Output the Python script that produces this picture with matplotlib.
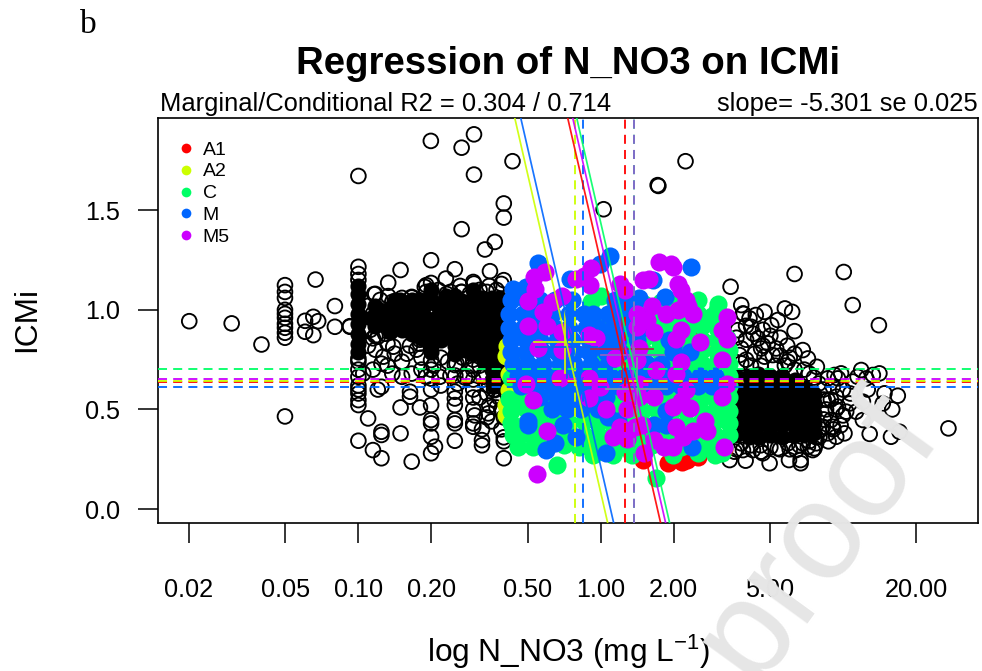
import numpy as np
import matplotlib
matplotlib.use("Agg")
import matplotlib.pyplot as plt
from matplotlib.lines import Line2D

plt.rcParams['font.family'] = ['Liberation Sans', 'DejaVu Sans']
plt.rcParams['mathtext.fontset'] = 'custom'
plt.rcParams['mathtext.rm'] = 'Liberation Sans'
plt.rcParams['mathtext.default'] = 'regular'

groups = ['A1', 'A2', 'C', 'M', 'M5']
group_colors = ['#FF0000', '#CCFF00', '#00FF66', '#0066FF', '#CC00FF']

x_tick_vals = [0.02, 0.05, 0.10, 0.20, 0.50, 1.00, 2.00, 5.00, 20.00]
x_tick_labels = ['0.02', '0.05', '0.10', '0.20', '0.50', '1.00', '2.00', '5.00', '20.00']
y_tick_vals = [0.0, 0.5, 1.0, 1.5]

# regression lines: ICMi = a + slope * log10(N_NO3)
slope = -5.301
intercepts = [1.241, 0.083, 1.438, 0.214, 1.351]
# group means (dashed lines), log10(N_NO3) and ICMi
mean_x = [0.099, -0.107, 0.136, -0.074, 0.136]
mean_y = [0.637, 0.642, 0.702, 0.612, 0.652]
# crosses: centre and half widths
cross_x = [0.087, -0.148, 0.148, -0.140, 0.133]
cross_y = [0.803, 0.838, 0.602, 0.813, 0.772]
cross_dx = [0.128, 0.126, 0.126, 0.126, 0.130]
cross_dy = [0.155, 0.155, 0.155, 0.155, 0.155]
cross_colors = ['#B02850', '#CCEE10', '#7A9AA0', '#1060F0', '#8A60C8']

# other observations, open circles, (log10 N_NO3, ICMi)
others_left = [
    (-1.698,.943),(-1.523,.932),(-1.40,.826),(-1.303,1.124),(-1.303,1.09),(-1.303,1.06),(-1.303,1.0),
    (-1.303,.98),(-1.303,.96),(-1.303,.93),(-1.303,.91),(-1.303,.885),(-1.303,.86),(-1.303,.465),
    (-1.22,.945),(-1.22,.89),(-1.186,.965),(-1.166,.943),(-1.186,.873),(-1.177,1.152),(-1.097,1.019),
    (-1.097,.915),(-1.035,.918),(-1.0,1.672),(-1.0,1.216),(-1.0,1.18),(-1.0,1.15),(-1.0,.756),(-1.0,.70),
    (-1.0,.664),(-1.0,.58),(-1.0,.547),(-1.0,.522),(-1.0,.343),(-.701,1.848),(-.574,1.814),(-.523,1.881),
    (-.364,1.746),(-.523,1.679),(-.40,1.534),(-.40,1.463),(-.574,1.405),(-.437,1.341),(-.478,1.303),
    (-.70,1.249),(-.826,1.2),(-.602,1.204),(-.639,1.157),(-.457,1.194),(-.523,1.132),(-.877,1.136),
    (-.70,1.135),(-.726,1.115),(-.40,1.149),(-.935,1.079),(-.877,1.069),(-.78,1.062),(-.574,1.09),
    (-.96,.455),(-.905,.388),(-.905,.372),(-.94,.296),(-.905,.255),(-.826,.38),(-.78,.238),(-.94,.70),
    (-.92,.60),(-.905,.614),(-.897,.765),(-.905,.73),(-.856,.815),(-.82,.74),(-.82,.664),(-.78,.68),
    (-.787,.589),(-.787,.564),(-.826,.51),(-.746,.51),(-.70,.60),(-.70,.522),(-.70,.447),(-.70,.43),
    (-.70,.363),(-.70,.28),(-.684,.313),(-.70,.748),(-.602,.589),(-.602,.555),(-.602,.522),(-.602,.447),
    (-.602,.43),(-.602,.343),(-.602,.723),(-.526,.75),(-.526,.70),(-.526,.65),(-.526,.60),(-.526,.56),
    (-.526,.50),(-.526,.43),(-.526,.413),(-.49,.346),(-.49,.32),(-.464,.48),(-.44,.55),(-.47,.46),
    (-.50,.56),(-.43,.51),(-.40,.36),(-.40,.34),(-.40,.255),(-.40,.46),(-.55,.664),(-.485,.664),
    (-.437,.597),(-.47,.58),(-.43,.70),(-.595,.73),(-.664,.664),(-.72,.664),(-.746,.85),(-.93,1.08),
    (-.78,1.065),(-.72,1.124),(-.526,1.14),(-.575,1.09),(-.636,1.08),(-.47,1.09),(-.94,.98),(-.95,.90),
    (-.94,.857),(-.92,.865),(-.89,.88),(-.787,.82),(-.746,.83),(-1.035,.915),(-.46,.62),(-.41,.40),
    (-.96,.82),(-.93,.80),(-.88,.83),(-.85,.78),(-.80,.78),(-.76,.80),(-.74,.76),(-.69,.72),(-.66,.76),
    (-.63,.74),(-.57,.76),(-.53,.72),(-.50,.72),(-.48,.76),(-.46,.74),(-.44,.60),(-.42,.56),(-.46,.52),
    (-.41,.50),(-.45,.44),(-.49,.40),(-.52,.47),(-.56,.66),(-.59,.63),(-.62,.67),(-.66,.62),(-.70,.70),
    (-.72,1.09),(-.67,1.10),(-.62,1.09),(-.58,1.12),(-.54,1.08),(-.50,1.10),(-.46,1.12),(-.43,1.10),
    (-.41,1.13),(-.82,1.06),(-.86,1.04),(-.91,1.05),(-.96,1.02),(-.97,.90),(-.93,.87),(-1.0,.62),(-1.0,.60),
    (-1.0,.74),(-.98,.68),(-.88,.72),(-.86,.68),(-.74,.70),(-.70,.655),(-.60,.67),
]
others_right = [
    (.35,1.746),(.235,1.626),(.238,1.622),(.012,1.505),(.536,1.116),(.58,1.024),(.80,1.18),(1.003,1.19),
    (1.04,1.024),(1.148,.923),(1.435,.405),(.587,.982),(.566,.898),(.614,.957),(.621,.915),(.64,.974),
    (.676,.99),(.76,1.007),(.79,.99),(.731,.949),(.704,.923),(.80,.893),(.649,.857),(.69,.832),(.724,.806),
    (.71,.773),(.635,.78),(.58,.806),(.573,.773),(.662,.806),(.834,.798),(.855,.756),(.892,.714),(.772,.74),
    (.676,.765),(.58,.731),(.965,.673),(.992,.681),(.937,.656),(1.075,.698),(1.123,.673),(1.15,.681),
    (1.06,.664),(1.096,.656),(.979,.656),(1.171,.581),(1.226,.569),(1.203,.50),(1.102,.60),(1.082,.539),
    (1.164,.53),(.958,.614),(.972,.564),(.937,.547),(.979,.514),(.93,.48),(1.013,.489),(.95,.447),(1.006,.38),
    (.972,.363),(.937,.38),(.958,.413),(1.054,.489),(1.082,.447),(1.11,.377),(1.198,.363),(1.233,.388),
    (1.027,.53),(.889,.33),(.917,.413),(.903,.363),(.882,.305),(.855,.313),(.532,.246),(.598,.243),(.662,.288),
    (.697,.23),(.777,.246),(.825,.246),(.825,.23),(.731,.305),(.628,.296),(.587,.296),(.669,.28),(.807,.296),
    (.552,.288),(.875,.296),(.772,.33),(.834,.33),
    (.62,.72),(.60,.75),(.66,.72),(.72,.72),(.76,.72),(.80,.70),(.84,.70),(.86,.68),(.88,.66),(.90,.63),
    (.92,.60),(.92,.55),(.93,.50),(.92,.45),(.91,.40),(.89,.36),(.86,.34),(.82,.32),(.78,.30),(.74,.30),
    (.70,.31),(.66,.32),(.62,.32),(.58,.33),(.56,.30),(.60,.85),(.63,.88),(.67,.90),(.70,.87),(.74,.86),
    (.77,.82),(.80,.78),(.60,.92),(.56,.86),(.59,.98),(.67,.82),(.74,.77),(.78,.76),(.95,.55),(.97,.50),
    (1.0,.47),(1.0,.60),(1.03,.58),(1.04,.64),(.99,.42),(.96,.40),(.94,.34),
]
# places where the open circles overlap so much that they print solid black
overlap_left = [
    (-1.0,1.12),(-1.0,1.08),(-1.0,1.03),(-1.0,.98),(-1.0,.93),(-1.0,.88),(-1.0,.83),(-1.0,.79),
    (-.70,1.10),(-.70,1.05),(-.70,.82),(-.70,.79),(-.602,1.07),(-.602,.82),(-.602,.78),
    (-.526,1.10),(-.526,1.06),(-.526,.82),(-.526,.78),(-.45,1.06),(-.42,1.02),(-.41,.82),(-.41,.77),
    (-.41,.72),(-.41,.67),(-.45,.80),(-.45,.75),(-.45,.70),(-.45,.65),
    (-.95,.96),(-.91,1.0),(-.90,.94),(-.86,1.01),(-.85,.95),(-.87,.89),(-.82,1.02),(-.80,.96),(-.82,.90),
    (-.77,1.01),(-.76,.95),(-.78,.88),(-.73,1.02),(-.72,.96),(-.73,.90),(-.68,1.03),(-.67,.97),(-.68,.90),
    (-.64,1.04),(-.63,.98),(-.64,.91),(-.60,1.02),(-.59,.96),(-.60,.88),(-.56,1.03),(-.55,.97),(-.56,.90),
    (-.55,.84),(-.51,1.03),(-.50,.97),(-.51,.90),(-.50,.84),(-.47,1.03),(-.46,.96),(-.47,.90),(-.46,.85),
    (-.42,1.06),(-.42,.97),(-.41,.91),(-.42,.86),(-.66,.85),(-.74,.86),(-.85,1.05),(-.78,1.05),(-.64,1.07),
    (-.93,.97),(-.93,1.02),(-.87,.95),(-.84,.98),(-.83,1.05),(-.75,1.05),(-.71,1.06),(-.75,.91),(-.70,.94),
    (-.66,1.0),(-.62,1.01),(-.62,.94),(-.58,.99),(-.58,.93),(-.58,.87),(-.53,1.0),(-.53,.94),(-.53,.87),
    (-.49,1.0),(-.49,.94),(-.49,.87),(-.44,.99),(-.44,.93),(-.44,.88),(-.58,1.05),(-.53,1.05),(-.49,1.06),
    (-.66,.92),(-.70,.87),(-.62,.87),(-.78,.92),(-.83,.94),(-.87,.92),(-.93,.92),(-.48,.80),(-.52,.79),
    (-.56,.80),(-.48,.74),(-.44,.62),(-.41,.62),
]
overlap_right = [
    (.56,.37),(.56,.42),(.56,.47),(.56,.52),(.56,.57),(.56,.62),(.56,.67),
    (.61,.36),(.61,.41),(.61,.46),(.61,.51),(.61,.56),(.61,.61),(.61,.67),
    (.65,.36),(.65,.42),(.65,.47),(.65,.52),(.65,.57),(.65,.62),(.65,.68),
    (.70,.37),(.70,.41),(.70,.46),(.70,.51),(.70,.56),(.70,.61),(.70,.67),
    (.75,.36),(.75,.42),(.75,.47),(.75,.52),(.75,.57),(.75,.62),(.75,.67),
    (.80,.37),(.80,.41),(.80,.46),(.80,.51),(.80,.56),(.80,.61),(.80,.65),
    (.84,.37),(.84,.42),(.84,.47),(.84,.52),(.84,.57),(.84,.61),
    (.88,.38),(.88,.43),(.88,.48),(.88,.53),(.88,.58),
]

a1_pts = [(.173,.245),(.276,.23),(.334,.235),(.355,.245),(.38,.85),(.44,.83),(.51,.30),(.40,.26)]
a2_pts = [(-.385,.82),(-.39,.77),(-.38,.68),(-.39,.47),(.46,.82),(-.38,.60),(-.39,.52),(-.36,.74)]
c_pts = [
    (-.18,.22),(.23,.155),(-.03,.27),(.05,.27),(.13,.27),(.30,.27),(.40,.28),(.47,.27),(.50,.28),
    (-.34,.31),(-.28,.31),(-.22,.31),(-.15,.32),(-.09,.31),(-.03,.31),(.03,.32),(.09,.31),(.15,.31),(.21,.32),
    (.27,.31),(.33,.31),(.39,.32),(.45,.31),(.51,.31),
    (-.36,.37),(-.31,.38),(-.25,.37),(-.19,.37),(-.13,.38),(-.07,.37),(-.01,.37),(.05,.38),(.11,.37),(.17,.37),
    (.23,.38),(.29,.37),(.35,.37),(.41,.38),(.47,.37),(.53,.37),
    (-.37,.43),(-.31,.43),(-.25,.44),(-.19,.43),(-.13,.43),(-.07,.44),(-.01,.43),(.05,.43),(.11,.44),(.17,.43),
    (.23,.43),(.29,.44),(.35,.43),(.41,.43),(.47,.44),(.53,.43),
    (-.37,.49),(-.31,.50),(-.25,.49),(-.19,.49),(-.13,.50),(-.07,.49),(-.01,.49),(.05,.50),(.11,.49),(.17,.49),
    (.23,.50),(.29,.49),(.35,.49),(.41,.50),(.47,.49),(.53,.49),
    (-.38,.55),(-.32,.55),(-.25,.56),(-.19,.55),(-.07,.55),(-.01,.56),(.05,.55),(.11,.55),(.17,.56),
    (.23,.55),(.29,.55),(.35,.56),(.41,.55),(.47,.55),(.53,.56),
    (-.01,.62),(.05,.61),(.11,.61),(.17,.62),(.23,.61),(.29,.61),(.35,.62),(.41,.61),(.47,.61),(.53,.62),
    (-.37,.66),(-.01,.67),(.05,.68),(.11,.67),(.17,.67),(.23,.68),(.29,.67),(.35,.67),(.41,.68),(.47,.67),(.53,.67),
    (.0,.73),(.06,.73),(.12,.74),(.18,.73),(.24,.73),(.30,.74),(.36,.73),(.42,.73),(.48,.74),(.53,.73),
    (.0,.79),(.06,.80),(.12,.79),(.18,.79),(.24,.80),(.30,.79),(.36,.79),(.42,.80),(.48,.79),(.53,.80),
    (.0,.86),(.06,.85),(.12,.85),(.18,.86),(.24,.85),(.30,.85),(.36,.86),(.42,.85),(.48,.85),(.52,.86),
    (.0,.91),(.06,.92),(.12,.91),(.18,.91),(.24,.92),(.30,.91),(.36,.91),(.42,.92),(.48,.91),
    (-.03,.98),(.05,.97),(.12,.98),(.20,.97),(.26,.98),(.33,.97),(.40,.98),(.46,.97),(.50,.97),
    (-.04,1.04),(.0,1.07),(.06,1.04),(.12,1.06),(.18,1.03),(.25,1.04),(.31,1.03),(.40,1.05),(.483,1.03),(.48,1.00),
    (-.36,.40),(-.34,.52),
]
m_pts = [
    (.374,1.216),(-.26,1.236),(-.128,1.157),(.04,1.27),(-.004,1.23),(.264,1.065),(.216,1.15),(-.364,1.107),(-.31,1.115),
    (-.37,1.05),(-.31,1.05),(-.25,1.05),(-.19,1.05),(-.12,1.05),(.06,1.05),(.11,1.02),(.16,1.06),
    (-.38,.98),(-.32,.98),(-.26,.98),(-.20,.98),(-.13,.98),(-.07,.98),(-.03,.98),(.03,.98),(.09,.98),(.15,.98),
    (-.38,.91),(-.32,.91),(-.26,.91),(-.19,.91),(-.13,.91),(-.06,.91),(-.01,.91),(.05,.91),(.11,.91),(.17,.91),
    (-.37,.85),(-.31,.85),(-.25,.85),(-.18,.85),(-.12,.85),(-.05,.85),(.01,.85),(.07,.85),(.15,.85),(.28,.85),(.30,.82),
    (-.37,.79),(-.31,.79),(-.24,.79),(-.18,.79),(-.11,.79),(-.05,.79),(.02,.79),(.08,.79),(.30,.79),(.37,.79),
    (-.36,.73),(-.30,.73),(-.24,.73),(-.17,.73),(-.11,.73),(-.04,.73),(.03,.73),(.19,.73),(.25,.73),
    (-.34,.67),(-.28,.67),(-.22,.67),(-.15,.67),(-.09,.67),(-.02,.67),(.04,.67),(.10,.67),(.15,.67),(.22,.67),
    (.28,.67),(.34,.67),(.41,.67),(.47,.67),
    (-.33,.62),(-.27,.62),(-.20,.62),(-.14,.62),(-.07,.62),(.0,.62),(.07,.62),(.14,.62),(.21,.62),(.27,.62),
    (.33,.62),(.40,.62),(.46,.62),
    (-.25,.56),(-.18,.56),(-.12,.56),(-.05,.56),(.02,.56),(-.20,.50),(-.14,.50),(-.08,.50),(-.01,.50),(.27,.49),
    (-.30,.44),(-.30,.42),(-.155,.42),(-.19,.33),(-.224,.296),(-.10,.36),(.023,.283),(.03,.46),(.07,.44),
    (.22,.42),(.27,.42),(.378,.313),
]
m5_pts = [
    (-.264,.176),(.24,1.24),(.29,1.23),(.30,1.216),(-.274,1.166),(-.23,1.19),(-.27,1.107),(-.10,1.157),(-.04,1.21),
    (-.046,1.124),(-.07,1.17),(.175,1.15),(.20,1.157),(.08,1.13),(.10,1.10),(.32,1.13),(.33,1.10),(-.30,1.045),
    (.35,1.05),(.36,1.02),(-.24,.99),(-.20,1.04),(-.16,1.07),(.21,1.02),(.15,.98),(.27,.98),(.38,.98),(.32,1.0),
    (.52,.965),(-.30,.92),(-.22,.92),(-.16,.89),(.19,.95),(.22,.89),(.15,.915),(.33,.90),(.31,.855),(.41,.84),
    (.50,.90),(.52,.855),(-.02,.857),(-.05,.875),(-.26,.806),(-.16,.80),(.50,.75),(.33,.74),(.06,.756),(.16,.81),
    (.15,.75),(-.17,.656),(-.31,.63),(-.05,.656),(-.004,.615),(-.05,.555),(-.28,.545),(.16,.63),(.23,.70),(.31,.68),
    (.52,.63),(.50,.56),(.10,.59),(.16,.56),(.22,.56),(.35,.60),(.33,.54),(.30,.51),(.37,.505),(.11,.50),(.02,.50),
    (-.22,.39),(.08,.41),(.05,.36),(.11,.35),(.17,.42),(.14,.41),(.22,.345),(.26,.31),(.30,.31),(.31,.41),(.34,.36),
    (.38,.39),(.43,.44),(.44,.39),(.51,.31),(.18,.28),
]
point_sets = [a1_pts, a2_pts, c_pts, m_pts, m5_pts]

fig = plt.figure(figsize=(9.82, 6.71), dpi=100)
ax = fig.add_axes([158/982, 1-523/671, 820/982, 405/671])

for pts in [others_left, others_right]:
    xy = np.array(pts)
    ax.scatter(xy[:, 0], xy[:, 1], s=112, facecolors='none', edgecolors='black', linewidths=1.35, zorder=2)
for pts in [overlap_left, overlap_right]:
    xy = np.array(pts)
    ax.scatter(xy[:, 0], xy[:, 1], s=135, color='black', linewidths=0, zorder=2)

for pts, col in zip(point_sets, group_colors):
    xy = np.array(pts)
    ax.scatter(xy[:, 0], xy[:, 1], s=170, color=col, linewidths=0, zorder=3)

dash = (0, (5, 3.4))
for i, col in enumerate(group_colors):
    ax.axline((0, intercepts[i]), slope=slope, color=col, lw=1.25, zorder=5, alpha=0.9)
    vcol = '#8A60D0' if groups[i] == 'M5' else col
    ax.axvline(mean_x[i], color=vcol, lw=1.3, ls=dash, zorder=4)
    ax.plot([cross_x[i]-cross_dx[i], cross_x[i]+cross_dx[i]], [cross_y[i], cross_y[i]], color=cross_colors[i], lw=1.3, zorder=4)
    ax.plot([cross_x[i], cross_x[i]], [cross_y[i]-cross_dy[i], cross_y[i]+cross_dy[i]], color=cross_colors[i], lw=1.3, zorder=4)
# horizontal means drawn so the yellow stays in front of the red and purple
for i in [0, 4, 2, 3, 1]:
    ax.axhline(mean_y[i], color=group_colors[i], lw=1.3, ls=dash, zorder=4)

ax.set_xlim(-1.827, 1.557)
ax.set_ylim(-0.07, 1.963)
ax.set_xticks(np.log10(x_tick_vals))
ax.set_xticklabels(x_tick_labels)
ax.set_yticks(y_tick_vals)
ax.set_yticklabels(['%.1f' % v for v in y_tick_vals])
ax.tick_params(axis='x', length=14.4, width=1.1, labelsize=18.2, pad=25)
ax.tick_params(axis='y', length=14.4, width=1.1, labelsize=18.2, pad=13)
for s in ax.spines.values():
    s.set_linewidth(1.2)

handles = [Line2D([], [], ls='', marker='o', ms=7, mew=0, color=c, label=g) for g, c in zip(groups, group_colors)]
ax.legend(handles=handles, loc='upper left', bbox_to_anchor=(0.006, 0.977), frameon=False,
          fontsize=14, labelspacing=0.22, handlelength=1.0, handletextpad=0.35, borderpad=0.2)

fig.text(88/982, 1-25/671, 'b', family='Liberation Serif', fontsize=24, ha='center', va='center')
fig.text(568/982, 1-63.5/671, 'Regression of N_NO3 on ICMi', fontsize=27.6, fontweight='bold', ha='center', va='center')
fig.text(160/982, 1-111/671, 'Marginal/Conditional R2 = 0.304 / 0.714', fontsize=18.4, ha='left', va='baseline')
fig.text(978/982, 1-111/671, 'slope= -5.301 se 0.025', fontsize=18.4, ha='right', va='baseline')
fig.text(27/982, 1-320/671, 'ICMi', fontsize=22.8, rotation=90, ha='center', va='center')
fig.text(427/982, 1-662/671, 'log N_NO3 (mg L$^{-1}$)', fontsize=22.8, ha='left', va='baseline')

fig.text(940/982, 1-430/671, 'proof', fontsize=100, color='#E6E6E6', rotation=54,
         rotation_mode='anchor', ha='right', va='baseline', zorder=10)

fig.savefig('out.png', dpi=100)
